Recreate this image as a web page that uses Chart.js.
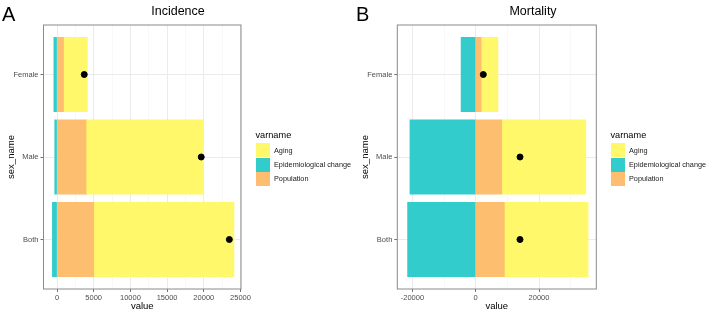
<!DOCTYPE html>
<html>
<head>
<meta charset="utf-8">
<script src="https://cdn.jsdelivr.net/npm/chart.js@4.4.1/dist/chart.umd.min.js"></script>
<style>
  body { margin: 0; background: #fff; font-family: "Liberation Sans", Arial, sans-serif; }
  #wrap { position: relative; width: 708px; height: 312px; overflow: hidden; }
  .panel { position: absolute; top: 0; width: 354px; height: 312px; }
  .txt { position: absolute; white-space: nowrap; line-height: 1; color: #000; }
  .letter { font-size: 20px; top: 4px; }
  .title { font-size: 12.5px; top: 4.5px; transform: translateX(-50%); }
  .leg-title { font-size: 9.2px; }
  .leg-label { font-size: 7.3px; color: #1a1a1a; }
  .sw { position: absolute; width: 14px; height: 14px; }
</style>
</head>
<body>
<div id="wrap">
  <div class="panel" style="left:0"><canvas id="incidenceChart" width="354" height="312"></canvas></div>
  <div class="panel" style="left:354px"><canvas id="mortalityChart" width="354" height="312"></canvas></div>
  <div class="txt letter" style="left:2px">A</div>
  <div class="txt letter" style="left:356px">B</div>
  <div class="txt title" style="left:178px">Incidence</div>
  <div class="txt title" style="left:533px">Mortality</div>
  <div id="legendA"></div>
  <div id="legendB"></div>
</div>
<script>
// Data
const categories = ["Both", "Male", "Female"];
const seriesNames = ["Aging", "Epidemiological change", "Population"];
const seriesColors = ["#FFF86B", "#33CCCC", "#FDBF6F"];

const incidenceAging = [19100, 16000, 3250];
const incidenceEpi = [-620, -300, -420];
const incidencePopulation = [5000, 3950, 880];
const incidenceTotal = [23480, 19650, 3710];

const mortalityAging = [26450, 26550, 5300];
const mortalityEpi = [-21500, -20760, -4600];
const mortalityPopulation = [9040, 8210, 1700];
const mortalityTotal = [13990, 14000, 2400];

// Axis ticks
const incidenceMajor = [0, 5000, 10000, 15000, 20000, 25000];
const incidenceMinor = [2500, 7500, 12500, 17500, 22500];
const incidenceRange = [-1840, 25070];
const mortalityMajor = [-20000, 0, 20000];
const mortalityMinor = [-10000, 10000, 30000];
const mortalityRange = [-24770, 38100];

const tickFont = { family: "Liberation Sans", size: 7.5 };
const axisTitleFont = { family: "Liberation Sans", size: 9.5, lineHeight: 1.1 };

function points(values) {
    return values.map((v, i) => ({ x: v, y: i }));
}

// Panel border, like theme_bw
const panelBorder = {
    id: "panelBorder",
    afterDatasetsDraw(chart) {
        const a = chart.chartArea;
        const ctx = chart.ctx;
        ctx.save();
        ctx.strokeStyle = "#8a8a8a";
        ctx.lineWidth = 1;
        ctx.strokeRect(a.left, a.top, a.right - a.left, a.bottom - a.top);
        ctx.restore();
    },
};

function makeChart(id, aging, epi, population, total, major, minor, range, leftW, rightPad) {
    const ctx = document.getElementById(id).getContext("2d");
    return new Chart(ctx, {
        type: "bar",
        data: {
            datasets: [
                {
                    type: "scatter",
                    data: points(total),
                    backgroundColor: "#000",
                    borderColor: "#000",
                    pointRadius: 3,
                    stack: "dot",
                    order: 0,
                },
                { label: seriesNames[2], data: points(population), backgroundColor: seriesColors[2], order: 1 },
                { label: seriesNames[0], data: points(aging), backgroundColor: seriesColors[0], order: 1 },
                { label: seriesNames[1], data: points(epi), backgroundColor: seriesColors[1], order: 1 },
            ],
        },
        options: {
            indexAxis: "y",
            responsive: false,
            animation: false,
            barPercentage: 0.9,
            categoryPercentage: 1,
            inflateAmount: 0.4,
            layout: { padding: { left: 0, top: 25, right: rightPad, bottom: 0 } },
            plugins: { legend: { display: false }, tooltip: { enabled: false } },
            scales: {
                x: {
                    type: "linear",
                    stacked: true,
                    min: range[0],
                    max: range[1],
                    afterBuildTicks: (axis) => {
                        axis.ticks = major.concat(minor).sort((a, b) => a - b).map((v) => ({ value: v }));
                    },
                    afterFit: (scale) => { scale.height = 23; },
                    ticks: {
                        autoSkip: false,
                        maxRotation: 0,
                        padding: 1,
                        color: "#4D4D4D",
                        font: tickFont,
                        callback: (v) => (major.includes(v) ? String(v) : ""),
                    },
                    grid: {
                        color: (c) => (c.tick && major.includes(c.tick.value) ? "#EBEBEB" : "#F4F4F4"),
                        lineWidth: (c) => (c.tick && major.includes(c.tick.value) ? 1 : 0.6),
                        tickColor: (c) => (c.tick && major.includes(c.tick.value) ? "#333" : "rgba(0,0,0,0)"),
                        tickWidth: 0.7,
                        tickLength: 3,
                    },
                    border: { display: false },
                    title: { display: true, text: "value", color: "#000", font: axisTitleFont, padding: { top: 0, bottom: 0 } },
                },
                y: {
                    type: "linear",
                    stacked: true,
                    offset: false,
                    min: -0.6,
                    max: 2.6,
                    afterBuildTicks: (axis) => {
                        axis.ticks = categories.map((c, i) => ({ value: i }));
                    },
                    afterFit: (scale) => { scale.width = leftW; },
                    ticks: {
                        autoSkip: false,
                        padding: 2,
                        color: "#4D4D4D",
                        font: tickFont,
                        callback: (v) => categories[v],
                    },
                    grid: { offset: false, color: "#EBEBEB", lineWidth: 1, tickColor: "#333", tickWidth: 0.7, tickLength: 3 },
                    border: { display: false },
                    title: { display: true, text: "sex_name", color: "#000", font: axisTitleFont, padding: { top: 6.5, bottom: 0 } },
                },
            },
        },
        plugins: [panelBorder],
    });
}

makeChart("incidenceChart", incidenceAging, incidenceEpi, incidencePopulation, incidenceTotal,
    incidenceMajor, incidenceMinor, incidenceRange, 43.5, 113);
makeChart("mortalityChart", mortalityAging, mortalityEpi, mortalityPopulation, mortalityTotal,
    mortalityMajor, mortalityMinor, mortalityRange, 43.3, 111.7);

// Legends (same order as the figure)
function buildLegend(elId, x) {
    const box = document.getElementById(elId);
    let html = `<div class="txt leg-title" style="left:${x}px;top:131px">varname</div>`;
    seriesNames.forEach((name, i) => {
        const top = 143.3 + i * 14.3;
        html += `<div class="sw" style="left:${x}px;top:${top}px;background:${seriesColors[i]}"></div>`;
        html += `<div class="txt leg-label" style="left:${x + 18.5}px;top:${top + 3.5}px">${name}</div>`;
    });
    box.innerHTML = html;
}
buildLegend("legendA", 255.5);
buildLegend("legendB", 610.5);
</script>
</body>
</html>
